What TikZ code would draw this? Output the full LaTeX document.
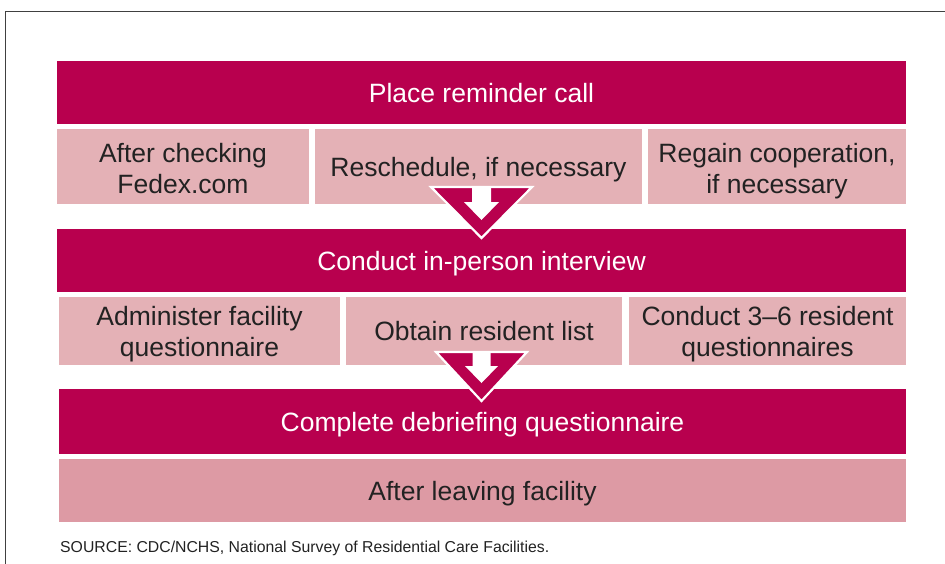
\documentclass[tikz,border=0pt]{standalone}
\usepackage{fontspec}
\setmainfont{Liberation Sans}
\definecolor{darkmag}{HTML}{B8004E}
\definecolor{lightpink}{HTML}{E4B1B6}
\definecolor{midpink}{HTML}{DD9AA4}
\definecolor{txtgray}{HTML}{222222}
\begin{document}
\begin{tikzpicture}[x=1pt,y=-1pt,
  boxtext/.style={inner sep=0pt, align=center, font=\fontsize{26.5}{31}\selectfont, text depth=0pt},
  oneline/.style={text height=19pt},
  twoline/.style={text height=51pt},
  band/.style={boxtext, fill=darkmag, text=white},
  cell/.style={boxtext, fill=lightpink, text=txtgray},
  lastcell/.style={boxtext, fill=midpink, text=txtgray},
  tri/.style={fill=darkmag, draw=white, line width=2.2pt, line join=miter},
  warrow/.style={fill=white}
]
\useasboundingbox (0,0) rectangle (945,563);
\draw[line width=1.3pt, color=black!75] (946,11.5) -- (5.5,11.5) -- (5.5,564);

% row 1
\node[band, oneline, minimum width=849pt, minimum height=63pt] (r1) at (481.5,92.5) {Place reminder call};
% row 2
\node[cell, twoline, text height=54pt, minimum width=252pt, minimum height=75pt] (a1) at (183,166.5) {After checking\\Fedex.com};
\node[cell, oneline, minimum width=327pt, minimum height=75pt] (a2) at (478.5,166.5) {Reschedule, if necessary};
\node[cell, twoline, text height=54pt, minimum width=258pt, minimum height=75pt] (a3) at (777,166.5) {Regain cooperation,\\if necessary};
% row 3
\node[band, oneline, minimum width=849pt, minimum height=63pt] (r3) at (481.5,260.5) {Conduct in-person interview};
% row 4
\node[cell, twoline, minimum width=281pt, minimum height=68pt] (b1) at (199.5,331) {Administer facility\\questionnaire};
\node[cell, oneline, minimum width=276pt, minimum height=68pt] (b2) at (484,331) {Obtain resident list};
\node[cell, twoline, minimum width=277pt, minimum height=68pt] (b3) at (767.5,331) {Conduct 3–6 resident\\questionnaires};
% row 5
\node[band, oneline, minimum width=847pt, minimum height=65pt] (r5) at (482.5,421.5) {Complete debriefing questionnaire};
% row 6
\node[lastcell, oneline, minimum width=847pt, minimum height=63pt] (r6) at (482.5,490.5) {After leaving facility};

% arrow 1 (from row 2 into row 3)
\draw[tri] (431,187) -- (532,187) -- (481.5,238) -- cycle;
\fill[warrow] (472,188) -- (491,188) -- (491,202) -- (499,202) -- (481.5,220) -- (464,202) -- (472,202) -- cycle;
% arrow 2 (from row 4 into row 5)
\draw[tri] (436,352) -- (527,352) -- (481.5,401) -- cycle;
\fill[warrow] (472.5,353) -- (490.5,353) -- (490.5,366) -- (498,366) -- (481.5,383) -- (465,366) -- (472.5,366) -- cycle;

\node[anchor=base west, inner sep=0pt, text=txtgray, font=\fontsize{15.8}{18}\selectfont] (src) at (60,552.5) {SOURCE: CDC/NCHS, National Survey of Residential Care Facilities.};
\end{tikzpicture}
\end{document}
